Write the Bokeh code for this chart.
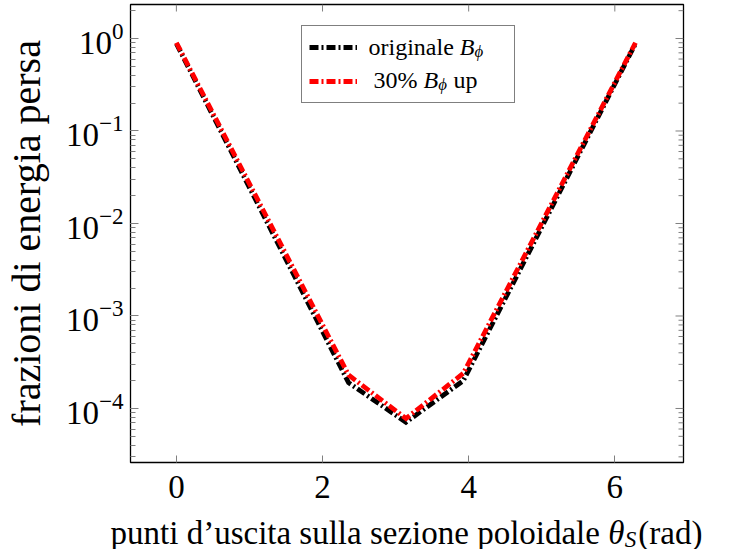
import math
from bokeh.plotting import figure
from bokeh.layouts import column
from bokeh.models import (Range1d, FixedTicker, Label, Legend, LegendItem)
from bokeh.embed import file_html
from bokeh.resources import INLINE

# ---------------- data ----------------
theta = [0.0, 2.356, 3.142, 3.927, 6.283]          # exit point theta_S (rad)
frac_orig = [0.88, 1.9e-4, 7.1e-5, 2.0e-4, 0.88]   # originale B_phi
frac_up30 = [0.90, 2.3e-4, 7.8e-5, 2.4e-4, 0.90]   # 30% B_phi up
x_ticks = [0, 2, 4, 6]
y_decades = [-4, -3, -2, -1, 0]
x_label_text = "punti d’uscita sulla sezione poloidale"
y_label_text = "frazioni di energia persa"
legend_row1 = ("originale", "B", "ϕ", "")
legend_row2 = ("30%", "B", "ϕ", "up")

FONT = "Liberation Serif"
X0, X1 = -0.628, 6.94
LY0, LY1 = -4.584, 0.3676
W_ALL = 725
H_MAIN, H_LAB = 515, 34
B_LEFT, B_RIGHT, B_TOP = 129, 42, 4
FRAME_W = W_ALL - B_LEFT - B_RIGHT
FRAME_H = 458
B_BOTTOM = H_MAIN - B_TOP - FRAME_H
LABEL_SHIFT = 8   # rendered labels sit this many px below their anchor

# Times / Liberation Serif advance widths (1/1000 em)
W_REG = {' ': 250, '’': 333, '(': 333, ')': 333, '%': 833,
         'a': 444, 'b': 500, 'c': 444, 'd': 500, 'e': 444, 'f': 333, 'g': 500,
         'h': 500, 'i': 278, 'j': 278, 'k': 500, 'l': 278, 'm': 778, 'n': 500,
         'o': 500, 'p': 500, 'q': 500, 'r': 333, 's': 389, 't': 278, 'u': 500,
         'v': 500, 'w': 722, 'x': 500, 'y': 500, 'z': 444}
for d in "0123456789":
    W_REG[d] = 500
W_IT = {'B': 611, 'S': 500, 'θ': 500, 'ϕ': 560}


def tw(s, fs, table=W_REG):
    return sum(table.get(c, 500) for c in s) * fs / 1000.0


p = figure(width=W_ALL, height=H_MAIN, y_axis_type="log",
           x_range=Range1d(X0, X1),
           y_range=Range1d(10 ** LY0, 10 ** LY1),
           output_backend="svg", toolbar_location=None, title_location=None,
           min_border_left=B_LEFT, min_border_right=B_RIGHT,
           min_border_top=B_TOP, min_border_bottom=B_BOTTOM)
p.frame_align = False
p.background_fill_color = "white"
p.border_fill_color = "white"
p.grid.visible = False
p.outline_line_color = "black"
p.outline_line_width = 1.3
p.outline_line_alpha = 1.0

TICK_COLOR = "#808080"

xa = p.xaxis[0]
xa.ticker = FixedTicker(ticks=x_ticks)
xa.major_tick_in = 7
xa.major_tick_out = 0
xa.minor_tick_line_color = None
xa.major_tick_line_color = TICK_COLOR
xa.axis_line_color = None
xa.major_label_text_font = FONT
xa.major_label_text_font_size = "33px"
xa.major_label_text_color = "black"
xa.major_label_standoff = 13

ya = p.yaxis[0]
ya.major_tick_in = 8
ya.major_tick_out = 0
ya.minor_tick_in = 5
ya.minor_tick_out = 0
ya.major_tick_line_color = TICK_COLOR
ya.minor_tick_line_color = TICK_COLOR
ya.axis_line_color = None
ya.major_label_text_font = FONT
ya.major_label_text_font_size = "33px"
ya.major_label_text_color = "black"
ya.major_label_standoff = 7
ya.axis_label = y_label_text
ya.axis_label_text_font = FONT
ya.axis_label_text_font_size = "40px"
ya.axis_label_text_font_style = "normal"
ya.axis_label_text_color = "black"
ya.axis_label_standoff = 14

# mirrored ticks on the top and right edges of the frame
px_per_x = FRAME_W / (X1 - X0)
px_per_dec = FRAME_H / (LY1 - LY0)
ytop = 10 ** LY1
tx = list(x_ticks)
p.segment(x0=tx, x1=tx, y0=[ytop] * len(tx),
          y1=[10 ** (LY1 - 7 / px_per_dec)] * len(tx),
          line_color=TICK_COLOR, line_width=1)
maj_y = [10.0 ** d for d in y_decades]
min_y = [m * 10.0 ** d for d in [-5] + y_decades for m in range(2, 10)
         if LY0 < math.log10(m * 10.0 ** d) < LY1]
p.segment(x0=[X1] * len(maj_y), x1=[X1 - 8 / px_per_x] * len(maj_y),
          y0=maj_y, y1=maj_y, line_color=TICK_COLOR, line_width=1)
p.segment(x0=[X1] * len(min_y), x1=[X1 - 5 / px_per_x] * len(min_y),
          y0=min_y, y1=min_y, line_color=TICK_COLOR, line_width=1)

DASH = "9 3 2 3"
r1 = p.line(theta, frac_orig, line_color="black", line_width=4.8,
            line_dash=DASH, line_join="miter")
r2 = p.line(theta, frac_up30, line_color="red", line_width=4.8,
            line_dash=DASH, line_join="miter")

# ---------------- legend box with line samples ----------------
NB = "\u00a0"
legend = Legend(items=[LegendItem(label=NB, renderers=[r1]),
                       LegendItem(label=NB, renderers=[r2])],
                location=(171, 359), padding=7, spacing=6, margin=0,
                glyph_width=48, glyph_height=20, label_standoff=8,
                label_width=142, label_height=28,
                label_text_font_size="24px", label_text_font=FONT,
                border_line_color="black", border_line_width=1.3,
                background_fill_color="white", background_fill_alpha=0.0)
p.add_layout(legend)


def add_text(fig, x, y, text, fs, italic=False):
    fig.add_layout(Label(x=x, y=y + LABEL_SHIFT, x_units="screen", y_units="screen",
                         text=text, text_font=FONT, text_font_size=f"{fs:.1f}px",
                         text_font_style="italic" if italic else "normal",
                         text_color="black", text_baseline="alphabetic",
                         text_align="left"))


def math_run(fig, x0, y0, fs, parts, sep=True):
    before, main, sub, after = parts
    x = x0
    if before:
        add_text(fig, x, y0, before, fs)
        x += tw(before, fs) + tw(" ", fs)
    add_text(fig, x, y0, main, fs, italic=True)
    x += tw(main, fs, W_IT)
    sfs = fs * 0.7
    add_text(fig, x, y0 - 0.2 * fs, sub, sfs, italic=True)
    x += tw(sub, sfs, W_IT)
    if after:
        x += tw(" ", fs) if sep else 2
        add_text(fig, x, y0, after, fs)
        x += tw(after, fs)
    return x


# legend label texts (frame-relative screen coordinates)
LFS = 24
math_run(p, 238, 408, LFS, legend_row1)
math_run(p, 243, 375, LFS, legend_row2)

# ---------------- strip below the plot holding the x axis label ----------------
q = figure(width=W_ALL, height=H_LAB, output_backend="svg", toolbar_location=None,
           title_location=None,
           x_range=Range1d(0, 1), y_range=Range1d(0, 1),
           min_border=0, min_border_left=0, min_border_right=0,
           min_border_top=0, min_border_bottom=0)
q.frame_align = False
q.axis.visible = False
q.grid.visible = False
q.outline_line_color = None
q.background_fill_color = "white"
q.border_fill_color = "white"

XFS = 33
sub_w = tw("S", XFS * 0.7, W_IT)
total = (tw(x_label_text, XFS) + tw(" ", XFS) + tw("θ", XFS, W_IT) + sub_w
         + 2 + tw("(rad)", XFS))
x_center = B_LEFT + FRAME_W / 2
math_run(q, x_center - total / 2, 9, XFS, (x_label_text, "θ", "S", "(rad)"), sep=False)

open("out.html", "w").write(file_html(column(p, q, spacing=0), INLINE))
